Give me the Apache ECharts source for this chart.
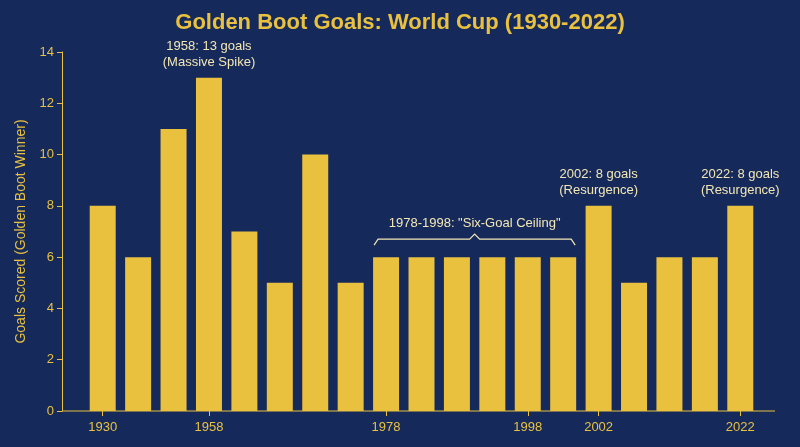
<!DOCTYPE html>
<html><head><meta charset="utf-8">
<script src="https://cdn.jsdelivr.net/npm/echarts@6/dist/echarts.min.js"></script>
<style>html,body{margin:0;padding:0;background:#15295b}#c{width:800px;height:447px}</style>
</head><body><div id="c"></div>
<script>
const categories = ["1930","1934","1938","1958","1962","1966","1970","1974","1978","1982","1986","1994","1998","2000","2002","2006","2010","2014","2022"];
const goals = [8,6,11,13,7,5,10,5,6,6,6,6,6,6,8,5,6,6,8];
const shownLabels = ["1930","1958","1978","1998","2002","2022"];
const yTicks = [0,2,4,6,8,10,12,14];
const gold = '#e9c13f';
const chart = echarts.init(document.getElementById('c'));
const shownIdx = categories.map((c,i)=>shownLabels.includes(c)?i:-1).filter(i=>i>=0);
chart.setOption({
  backgroundColor:'#15295b',
  animation:false,
  title:{text:'Golden Boot Goals: World Cup (1930-2022)',left:'center',top:7,
    textStyle:{color:gold,fontSize:22,fontWeight:'bold',fontFamily:'Liberation Sans'}},
  grid:{left:85,right:42,top:52,bottom:36},
  xAxis:{type:'category',data:categories,
    axisLine:{show:false},
    axisTick:{show:true,alignWithLabel:true,interval:(i)=>shownIdx.includes(i),lineStyle:{color:gold},length:5},
    axisLabel:{color:gold,fontSize:13,interval:(i)=>shownIdx.includes(i),margin:10}},
  yAxis:{type:'value',min:0,max:14,interval:2,offset:23,
    name:'Goals Scored (Golden Boot Winner)',nameLocation:'middle',nameGap:32,
    nameTextStyle:{color:gold,fontSize:14},
    axisLine:{show:true,lineStyle:{color:gold}},
    axisTick:{show:true,lineStyle:{color:gold}},
    axisLabel:{color:gold,fontSize:13,formatter:v=>yTicks.includes(v)?String(v):''},
    splitLine:{show:false}},
  series:[{type:'bar',data:goals,barWidth:26,itemStyle:{color:gold}}]
});
const P=(i,v)=>chart.convertToPixel({seriesIndex:0},[i,v]);
const z=P(0,0), x0=62, x1=775;
const txt=(i,v,s)=>{const p=P(i,v);return {type:'text',x:p[0],y:p[1],style:{text:s,fill:'#f3e7b5',font:'13px Liberation Sans',textAlign:'center',textVerticalAlign:'bottom',lineHeight:16}};};
const b1=P(8,6.7), b2=P(13,6.7);
const bl=b1[0]-12, br=b2[0]+12, by=b1[1], mid=(bl+br)/2;
chart.setOption({graphic:[
  {type:'line',shape:{x1:x0,y1:z[1],x2:x1,y2:z[1]},style:{stroke:gold,lineWidth:1}},
  txt(3,13.3,'1958: 13 goals\n(Massive Spike)'),
  txt(14,8.3,'2002: 8 goals\n(Resurgence)'),
  txt(18,8.3,'2022: 8 goals\n(Resurgence)'),
  {type:'polyline',shape:{points:[[bl,by+6],[bl+4,by],[mid-5,by],[mid,by-5],[mid+5,by],[br-4,by],[br,by+6]]},style:{stroke:'#f3e7b5',fill:null,lineWidth:1.2}},
  {type:'text',x:mid,y:by-9,style:{text:'1978-1998: "Six-Goal Ceiling"',fill:'#f3e7b5',font:'13px Liberation Sans',textAlign:'center',textVerticalAlign:'bottom'}}
]});
</script></body></html>
